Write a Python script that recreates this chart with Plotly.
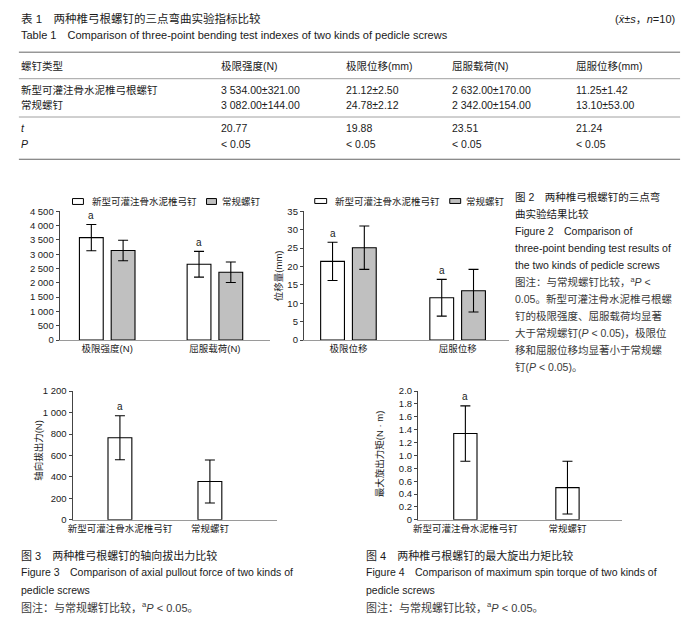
import plotly.graph_objects as go

W, H = 691, 625


def px(x):
    return x / W


def py(y):
    return 1 - y / H


LAT = "Liberation Sans, Arial, Noto Sans CJK SC, sans-serif"
DARK = "#1a1a1a"
GREY = "#3a3a3a"

# ---------------- Table data ----------------
table_title_cn = "表 1　两种椎弓根螺钉的三点弯曲实验指标比较"
table_title_en = "Table 1　Comparison of three-point bending test indexes of two kinds of pedicle screws"
table_note = "(<i>x\u0304</i>±<i>s</i>，<i>n</i>=10)"
table_header = ["螺钉类型", "极限强度(N)", "极限位移(mm)", "屈服载荷(N)", "屈服位移(mm)"]
row_new = ["新型可灌注骨水泥椎弓根螺钉", "3 534.00±321.00", "21.12±2.50", "2 632.00±170.00", "11.25±1.42"]
row_conv = ["常规螺钉", "3 082.00±144.00", "24.78±2.12", "2 342.00±154.00", "13.10±53.00"]
row_t = ["<i>t</i>", "20.77", "19.88", "23.51", "21.24"]
row_p = ["<i>P</i>", "&lt; 0.05", "&lt; 0.05", "&lt; 0.05", "&lt; 0.05"]

# ---------------- Chart data ----------------
series_names = ["新型可灌注骨水泥椎弓钉", "常规螺钉"]

fig2a_cats = ["极限强度(N)", "屈服载荷(N)"]
fig2a_new = [3580, 2650]
fig2a_new_err = [460, 450]
fig2a_conv = [3130, 2370]
fig2a_conv_err = [360, 360]
fig2a_ticks = [0, 500, 1000, 1500, 2000, 2500, 3000, 3500, 4000, 4500]
fig2a_ticklabels = ["0", "500", "1 000", "1 500", "2 000", "2 500", "3 000", "3 500", "4 000", "4 500"]

fig2b_cats = ["极限位移", "屈服位移"]
fig2b_new = [21.4, 11.5]
fig2b_new_err = [5.2, 5.0]
fig2b_conv = [25.1, 13.4]
fig2b_conv_err = [5.9, 5.8]
fig2b_ticks = [0, 5, 10, 15, 20, 25, 30, 35]
fig2b_ticklabels = ["0", "5", "10", "15", "20", "25", "30", "35"]
fig2b_ytitle = "位移量(mm)"

fig3_cats = ["新型可灌注骨水泥椎弓钉", "常规螺钉"]
fig3_vals = [765, 357]
fig3_err = [205, 200]
fig3_ticks = [0, 200, 400, 600, 800, 1000, 1200]
fig3_ticklabels = ["0", "200", "400", "600", "800", "1 000", "1 200"]
fig3_ytitle = "轴向拔出力(N)"

fig4_cats = ["新型可灌注骨水泥椎弓钉", "常规螺钉"]
fig4_vals = [1.34, 0.50]
fig4_err = [0.43, 0.41]
fig4_ticks = [0, 0.2, 0.4, 0.6, 0.8, 1.0, 1.2, 1.4, 1.6, 1.8, 2.0]
fig4_ticklabels = ["0", "0.2", "0.4", "0.6", "0.8", "1.0", "1.2", "1.4", "1.6", "1.8", "2.0"]
fig4_ytitle = "最大旋出力矩(N · m)"

sig_mark = "a"

# ---------------- Captions ----------------
cap2_lines = [
    ("图 2　两种椎弓根螺钉的三点弯", DARK),
    ("曲实验结果比较", DARK),
    ("Figure 2　Comparison of", DARK),
    ("three-point bending test results of", DARK),
    ("the two kinds of pedicle screws", DARK),
    ("图注：与常规螺钉比较，<sup>a</sup><i>P</i> &lt;", GREY),
    ("0.05。新型可灌注骨水泥椎弓根螺", GREY),
    ("钉的极限强度、屈服载荷均显著", GREY),
    ("大于常规螺钉(<i>P</i> &lt; 0.05)，极限位", GREY),
    ("移和屈服位移均显著小于常规螺", GREY),
    ("钉(<i>P</i> &lt; 0.05)。", GREY),
]
cap3_lines = [
    ("图 3　两种椎弓根螺钉的轴向拔出力比较", DARK),
    ("Figure 3　Comparison of axial pullout force of two kinds of", DARK),
    ("pedicle screws", DARK),
    ("图注：与常规螺钉比较，<sup>a</sup><i>P</i> &lt; 0.05。", GREY),
]
cap4_lines = [
    ("图 4　两种椎弓根螺钉的最大旋出力矩比较", DARK),
    ("Figure 4　Comparison of maximum spin torque of two kinds of", DARK),
    ("pedicle screws", DARK),
    ("图注：与常规螺钉比较，<sup>a</sup><i>P</i> &lt; 0.05。", GREY),
]

fig = go.Figure()

BAR_LINE = dict(color="black", width=1.1)
ERR = dict(type="data", color="black", thickness=1.1, width=5)


def grouped(axis_id, cats, new, new_err, conv, conv_err, bw, off_new, off_conv):
    xs = list(range(len(cats)))
    xa = "x" if axis_id == 1 else f"x{axis_id}"
    ya = "y" if axis_id == 1 else f"y{axis_id}"
    fig.add_trace(go.Bar(x=xs, y=new, width=bw, offset=off_new,
                         marker=dict(color="white", line=BAR_LINE),
                         error_y=dict(array=new_err, **ERR),
                         xaxis=xa, yaxis=ya, showlegend=False, name=series_names[0]))
    fig.add_trace(go.Bar(x=xs, y=conv, width=bw, offset=off_conv,
                         marker=dict(color="#c0c0c0", line=BAR_LINE),
                         error_y=dict(array=conv_err, **ERR),
                         xaxis=xa, yaxis=ya, showlegend=False, name=series_names[1]))
    for i in xs:
        fig.add_annotation(x=i + off_new + bw / 2, y=new[i] + new_err[i], xref=xa, yref=ya,
                           text=sig_mark, showarrow=False, yshift=9,
                           font=dict(size=10, color=DARK, family=LAT))


def single(axis_id, cats, vals, err, bw):
    xs = list(range(len(cats)))
    xa = f"x{axis_id}"
    ya = f"y{axis_id}"
    fig.add_trace(go.Bar(x=xs, y=vals, width=bw,
                         marker=dict(color="white", line=BAR_LINE),
                         error_y=dict(array=err, **ERR),
                         xaxis=xa, yaxis=ya, showlegend=False))
    fig.add_annotation(x=xs[0], y=vals[0] + err[0], xref=xa, yref=ya,
                       text=sig_mark, showarrow=False, yshift=9,
                       font=dict(size=10, color=DARK, family=LAT))


grouped(1, fig2a_cats, fig2a_new, fig2a_new_err, fig2a_conv, fig2a_conv_err, 0.221, -0.258, 0.037)
grouped(2, fig2b_cats, fig2b_new, fig2b_new_err, fig2b_conv, fig2b_conv_err, 0.218, -0.255, 0.036)
single(3, fig3_cats, fig3_vals, fig3_err, 0.265)
single(4, fig4_cats, fig4_vals, fig4_err, 0.228)


def xax(dom, rng, cats):
    return dict(domain=[px(dom[0]), px(dom[1])], range=list(rng), showline=True,
                linecolor="#9a9a9a", linewidth=1, tickvals=list(range(len(cats))),
                ticktext=cats, ticks="", showgrid=False, zeroline=False, fixedrange=True,
                tickfont=dict(size=9.5, color=DARK, family=LAT))


def yax(dom, rng, ticks, labels, anchor):
    return dict(domain=[py(dom[1]), py(dom[0])], range=list(rng), showline=True,
                linecolor="#444", linewidth=1, tickvals=ticks, ticktext=labels,
                ticks="outside", ticklen=3, tickcolor="#444", tickwidth=1,
                showgrid=False, zeroline=False, fixedrange=True, anchor=anchor,
                tickfont=dict(size=9.5, color=DARK, family=LAT))


fig.update_layout(
    width=W, height=H, autosize=False,
    margin=dict(l=0, r=0, t=0, b=0),
    paper_bgcolor="white", plot_bgcolor="white",
    barmode="overlay",
    font=dict(family=LAT, color=DARK),
    xaxis=dict(xax((55, 267), (-0.442, 1.512), fig2a_cats), anchor="y"),
    yaxis=yax((209, 340), (0, 4500), fig2a_ticks, fig2a_ticklabels, "x"),
    xaxis2=dict(xax((301, 508), (-0.409, 1.473), fig2b_cats), anchor="y2"),
    yaxis2=yax((209, 340), (0, 35), fig2b_ticks, fig2b_ticklabels, "x2"),
    xaxis3=dict(xax((68, 274), (-0.527, 1.746), fig3_cats), anchor="y3"),
    yaxis3=yax((392, 523), (0, 1200), fig3_ticks, fig3_ticklabels, "x3"),
    xaxis4=dict(xax((416, 622), (-0.464, 1.539), fig4_cats), anchor="y4"),
    yaxis4=yax((392, 523), (0, 2.0), fig4_ticks, fig4_ticklabels, "x4"),
)


def note(x, y, text, size=10.5, color=DARK, xanchor="left", angle=0):
    fig.add_annotation(x=px(x), y=py(y), xref="paper", yref="paper", text=text,
                       showarrow=False, xanchor=xanchor, yanchor="middle",
                       textangle=angle, font=dict(size=size, color=color, family=LAT))


def hline(y, x0=14, x1=680, width=1, color="#666"):
    fig.add_shape(type="line", xref="paper", yref="paper", x0=px(x0), x1=px(x1),
                  y0=py(y), y1=py(y), line=dict(color=color, width=width))


# ---- table ----
note(14, 13, table_title_cn, size=11.5)
note(612, 13, table_note, size=11)
note(14, 30, table_title_en, size=11)
hline(47)
hline(74, width=0.8, color="#888")
hline(113, width=0.8, color="#888")
hline(156)
col_x = [14, 216, 341, 448, 573]
for rows, y in [(table_header, 61.5), (row_new, 85), (row_conv, 101), (row_t, 124.5), (row_p, 140.5)]:
    for cx, txt in zip(col_x, rows):
        note(cx, y, txt, size=10.5, color=DARK if y != 61.5 else "#222")


# ---- legends ----
def legend_item(x0, x1, y0, y1, fill, tx, label):
    fig.add_shape(type="rect", xref="paper", yref="paper", x0=px(x0), x1=px(x1),
                  y0=py(y1), y1=py(y0), fillcolor=fill, line=dict(color="black", width=1))
    note(tx, (y0 + y1) / 2, label, size=9.5)


legend_item(68, 79, 196, 202, "white", 86, series_names[0])
legend_item(203, 213, 196, 202, "#c0c0c0", 217, series_names[1])
legend_item(312, 324, 196, 201, "white", 330, series_names[0])
legend_item(448, 459, 196, 201, "#c0c0c0", 462, series_names[1])

# ---- y titles ----
note(275, 275, fig2b_ytitle, size=9.5, xanchor="center", angle=-90)
note(33, 452, fig3_ytitle, size=9.5, xanchor="center", angle=-90)
note(378, 456, fig4_ytitle, size=9.5, xanchor="center", angle=-90)

# ---- captions ----
for i, (t, c) in enumerate(cap2_lines):
    note(512, 194 + i * 17.3, t, size=10.5, color=c)
for i, (t, c) in enumerate(cap3_lines):
    note(14, 559 + i * 17.5, t, size=11 if i in (0, 3) else 10.5, color=c)
for i, (t, c) in enumerate(cap4_lines):
    note(362, 559 + i * 17.5, t, size=11 if i in (0, 3) else 10.5, color=c)

fig.write_html(
    "out.html",
    config={"displayModeBar": False, "staticPlot": True},
    post_script="document.body.style.margin='0';document.body.style.overflow='hidden';",
)
